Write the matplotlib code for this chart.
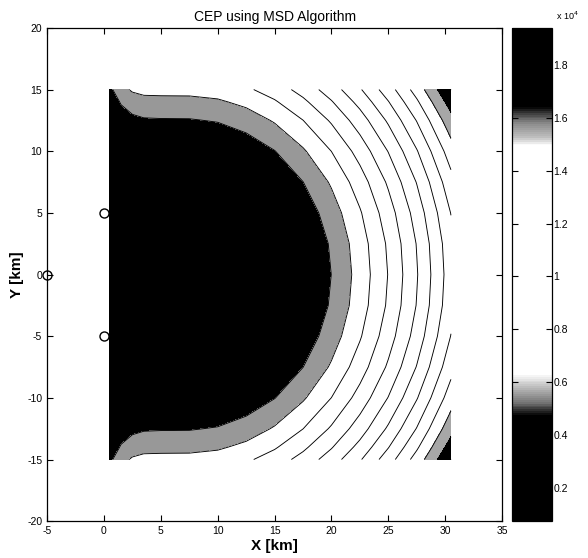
"""
CEP map for the MSD algorithm: filled contours over the sensor field,
grey-scale colormap (jet printed in b/w), sensors as open circles.
"""

import matplotlib
matplotlib.use("Agg")
import matplotlib.pyplot as plt
from matplotlib.colors import LinearSegmentedColormap, Normalize
from matplotlib.cm import ScalarMappable
import numpy as np

# ── data (CEP in units of 1e4) ──────────────────────────────────────────────
grid_x = [0.5, 1.5, 2.5, 3.5, 5, 7.5, 10, 12.5, 15, 17.5, 20, 22.5, 25, 27.5, 30.5]
grid_y = [-15, -14, -12.5, -10, -7.5, -5, -2.5, 0, 2.5, 5, 7.5, 10, 12.5, 14, 15]

cep = [
    [0.474, 0.570, 0.612, 0.627, 0.629, 0.630, 0.644, 0.683, 0.747, 0.837, 0.951, 1.090, 1.254, 1.443, 1.703],
    [0.416, 0.512, 0.554, 0.569, 0.571, 0.572, 0.586, 0.625, 0.689, 0.779, 0.893, 1.032, 1.196, 1.385, 1.645],
    [0.336, 0.433, 0.474, 0.489, 0.492, 0.493, 0.507, 0.546, 0.610, 0.699, 0.813, 0.952, 1.116, 1.305, 1.565],
    [0.224, 0.320, 0.362, 0.377, 0.379, 0.380, 0.394, 0.433, 0.497, 0.587, 0.701, 0.840, 1.004, 1.193, 1.453],
    [0.246, 0.289, 0.303, 0.303, 0.297, 0.293, 0.307, 0.346, 0.410, 0.499, 0.613, 0.752, 0.916, 1.105, 1.365],
    [0.261, 0.266, 0.261, 0.251, 0.238, 0.230, 0.244, 0.283, 0.347, 0.437, 0.551, 0.690, 0.854, 1.043, 1.303],
    [0.271, 0.253, 0.235, 0.220, 0.203, 0.193, 0.207, 0.246, 0.310, 0.399, 0.513, 0.652, 0.816, 1.005, 1.265],
    [0.274, 0.248, 0.227, 0.210, 0.191, 0.180, 0.194, 0.233, 0.297, 0.387, 0.501, 0.640, 0.804, 0.993, 1.253],
    [0.271, 0.253, 0.235, 0.220, 0.203, 0.193, 0.207, 0.246, 0.310, 0.399, 0.513, 0.652, 0.816, 1.005, 1.265],
    [0.261, 0.266, 0.261, 0.251, 0.238, 0.230, 0.244, 0.283, 0.347, 0.437, 0.551, 0.690, 0.854, 1.043, 1.303],
    [0.246, 0.289, 0.303, 0.303, 0.297, 0.293, 0.307, 0.346, 0.410, 0.499, 0.613, 0.752, 0.916, 1.105, 1.365],
    [0.224, 0.320, 0.362, 0.377, 0.379, 0.380, 0.394, 0.433, 0.497, 0.587, 0.701, 0.840, 1.004, 1.193, 1.453],
    [0.336, 0.433, 0.474, 0.489, 0.492, 0.493, 0.507, 0.546, 0.610, 0.699, 0.813, 0.952, 1.116, 1.305, 1.565],
    [0.416, 0.512, 0.554, 0.569, 0.571, 0.572, 0.586, 0.625, 0.689, 0.779, 0.893, 1.032, 1.196, 1.385, 1.645],
    [0.474, 0.570, 0.612, 0.627, 0.629, 0.630, 0.644, 0.683, 0.747, 0.837, 0.951, 1.090, 1.254, 1.443, 1.703],
]

levels = [0.1, 0.2, 0.3, 0.4, 0.5, 0.6, 0.7, 0.8, 0.9, 1.0,
          1.1, 1.2, 1.3, 1.4, 1.5, 1.6, 1.7, 1.8]

sensor_x = [0, -5, 0]
sensor_y = [5, 0, -5]

cbar_min, cbar_max = 0.0725, 1.942
cbar_ticks = [0.2, 0.4, 0.6, 0.8, 1.0, 1.2, 1.4, 1.6, 1.8]
cbar_labels = ["0.2", "0.4", "0.6", "0.8", "1", "1.2", "1.4", "1.6", "1.8"]

x_ticks = [-5, 0, 5, 10, 15, 20, 25, 30, 35]
y_ticks = [-20, -15, -10, -5, 0, 5, 10, 15, 20]


def grey_jet():
    # jet as it came out of a b/w printer: dark ends, grey shoulders, white middle
    stops = [
        (0.0725, 0.0), (0.47, 0.0), (0.52, 0.45), (0.58, 0.75), (0.63, 1.0),
        (1.50, 1.0), (1.53, 0.75), (1.58, 0.55), (1.62, 0.25), (1.645, 0.0),
        (1.942, 0.0),
    ]
    span = cbar_max - cbar_min
    pts = [((v - cbar_min) / span, (g, g, g)) for v, g in stops]
    return LinearSegmentedColormap.from_list("greyjet", pts)


def main():
    plt.rcParams["font.family"] = ["Liberation Sans", "DejaVu Sans"]
    plt.rcParams["axes.unicode_minus"] = False

    fig = plt.figure(figsize=(5.88, 5.58), dpi=100)
    ax = fig.add_axes([0.080, 0.066, 0.774, 0.884])
    cax = fig.add_axes([0.870, 0.066, 0.069, 0.884])

    cmap = grey_jet()
    norm = Normalize(vmin=cbar_min, vmax=cbar_max)

    X, Y = np.meshgrid(grid_x, grid_y)
    Z = np.array(cep)

    # ── filled contours + black level lines ──────────────────────────────────
    ax.contourf(X, Y, Z, levels=levels, cmap=cmap, norm=norm)
    ax.contour(X, Y, Z, levels=levels, colors="black", linewidths=0.65)

    ax.plot(sensor_x, sensor_y, "o", mfc="none", mec="black", ms=6.5, mew=1.0,
            clip_on=False, zorder=5)

    ax.set_xlim(-5, 35)
    ax.set_ylim(-20, 20)
    ax.set_xticks(x_ticks)
    ax.set_yticks(y_ticks)
    ax.tick_params(direction="in", length=4, width=0.8, labelsize=7.5,
                   top=True, right=True)
    for sp in ax.spines.values():
        sp.set_linewidth(0.9)

    ax.set_title("CEP using MSD Algorithm", fontsize=10, pad=5)
    ax.set_xlabel("X [km]", fontsize=11, fontweight="bold", labelpad=2)
    ax.set_ylabel("Y [km]", fontsize=11, fontweight="bold", labelpad=2)

    # ── colorbar: continuous colormap like MATLAB ────────────────────────────
    sm = ScalarMappable(norm=norm, cmap=cmap)
    cb = fig.colorbar(sm, cax=cax)
    cb.set_ticks(cbar_ticks)
    cb.set_ticklabels(cbar_labels)
    cax.tick_params(direction="in", length=4, width=0.8, labelsize=7.5,
                    left=True, right=True, pad=1)
    cb.outline.set_linewidth(0.9)
    fig.text(0.945, 0.960, r"x 10$^4$", fontsize=6.5, ha="left", va="bottom")

    fig.savefig("out.png", dpi=100, facecolor="white")


if __name__ == "__main__":
    main()
